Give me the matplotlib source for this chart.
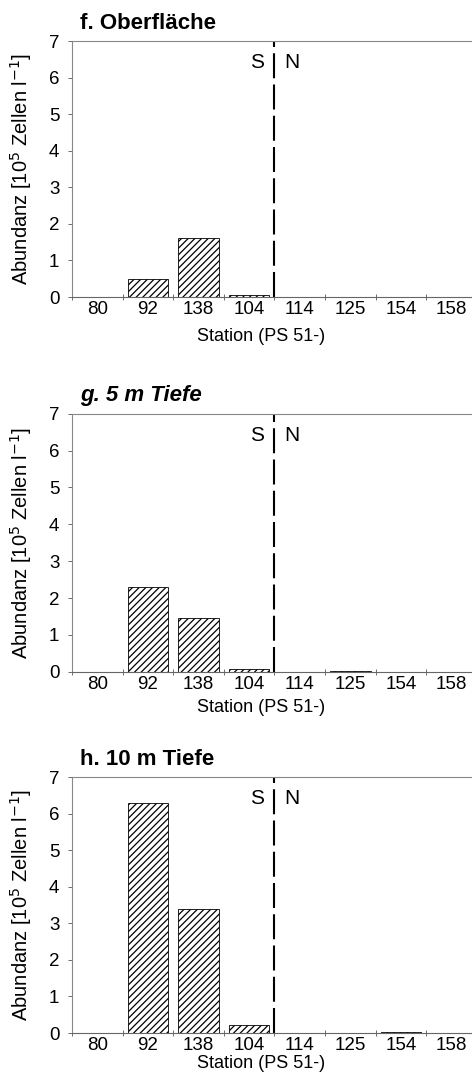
import matplotlib.pyplot as plt
import numpy as np

plt.rcParams["font.family"] = ["Liberation Sans", "DejaVu Sans"]
plt.rcParams["hatch.linewidth"] = 0.9

# Stations (PS 51-) and abundance [10^5 Zellen l^-1]
stations = ["80", "92", "138", "104", "114", "125", "154", "158"]
oberflaeche = [0.0, 0.48, 1.6, 0.05, 0.0, 0.0, 0.0, 0.0]
tiefe_5m = [0.0, 2.3, 1.45, 0.07, 0.0, 0.01, 0.0, 0.0]
tiefe_10m = [0.0, 6.3, 3.4, 0.22, 0.0, 0.01, 0.02, 0.0]

# title, font style, values, axes rect, x-label offset
panels = [
    ("f. Oberfläche", "normal", oberflaeche, [0.1525, 0.725, 0.858, 0.237], -0.12),
    ("g. 5 m Tiefe", "italic", tiefe_5m, [0.1525, 0.378, 0.858, 0.239], -0.105),
    ("h. 10 m Tiefe", "normal", tiefe_10m, [0.1525, 0.0435, 0.858, 0.237], -0.085),
]

fig = plt.figure(figsize=(4.72, 10.8), dpi=100)
x = np.arange(len(stations))

for title, style, values, rect, xlab_y in panels:
    ax = fig.add_axes(rect)
    ax.bar(x, values, width=0.8, color="white", edgecolor="black",
           hatch="/////", linewidth=0.6)
    ax.axvline(3.5, ymin=0, ymax=1, color="black", linestyle=(0, (12, 3)),
               linewidth=1.5)
    ax.text(3.3, 6.4, "S", ha="right", va="center", fontsize=15)
    ax.text(3.7, 6.4, "N", ha="left", va="center", fontsize=15)

    ax.set_xlim(-0.5, 7.5)
    ax.set_ylim(0, 7)
    ax.set_yticks(range(8))
    ax.set_xticks(x)
    ax.set_xticklabels(stations)
    ax.set_xticks(np.arange(-0.5, 8, 1), minor=True)
    ax.tick_params(axis="x", which="major", length=0, labelsize=13.5, pad=3)
    ax.tick_params(axis="x", which="minor", length=4, width=0.6,
                   direction="inout", color="#555555")
    ax.tick_params(axis="y", length=3, width=0.6, labelsize=13.5,
                   color="#555555", pad=6)

    for side in ["top", "left"]:
        ax.spines[side].set_color("#888888")
        ax.spines[side].set_linewidth(0.8)
    ax.spines["bottom"].set_color("#666666")
    ax.spines["bottom"].set_linewidth(0.8)
    ax.spines["right"].set_visible(False)

    ax.set_ylabel("Abundanz [10$^5$ Zellen l$^{-1}$]", fontsize=14.5)
    ax.yaxis.set_label_coords(-0.095, 0.5)
    ax.set_xlabel("Station (PS 51-)", fontsize=13)
    ax.xaxis.set_label_coords(0.467, xlab_y)
    ax.set_title(title, loc="left", fontsize=16, fontweight="bold",
                 fontstyle=style, x=0.02, pad=9)

fig.savefig("out.png", dpi=100)
